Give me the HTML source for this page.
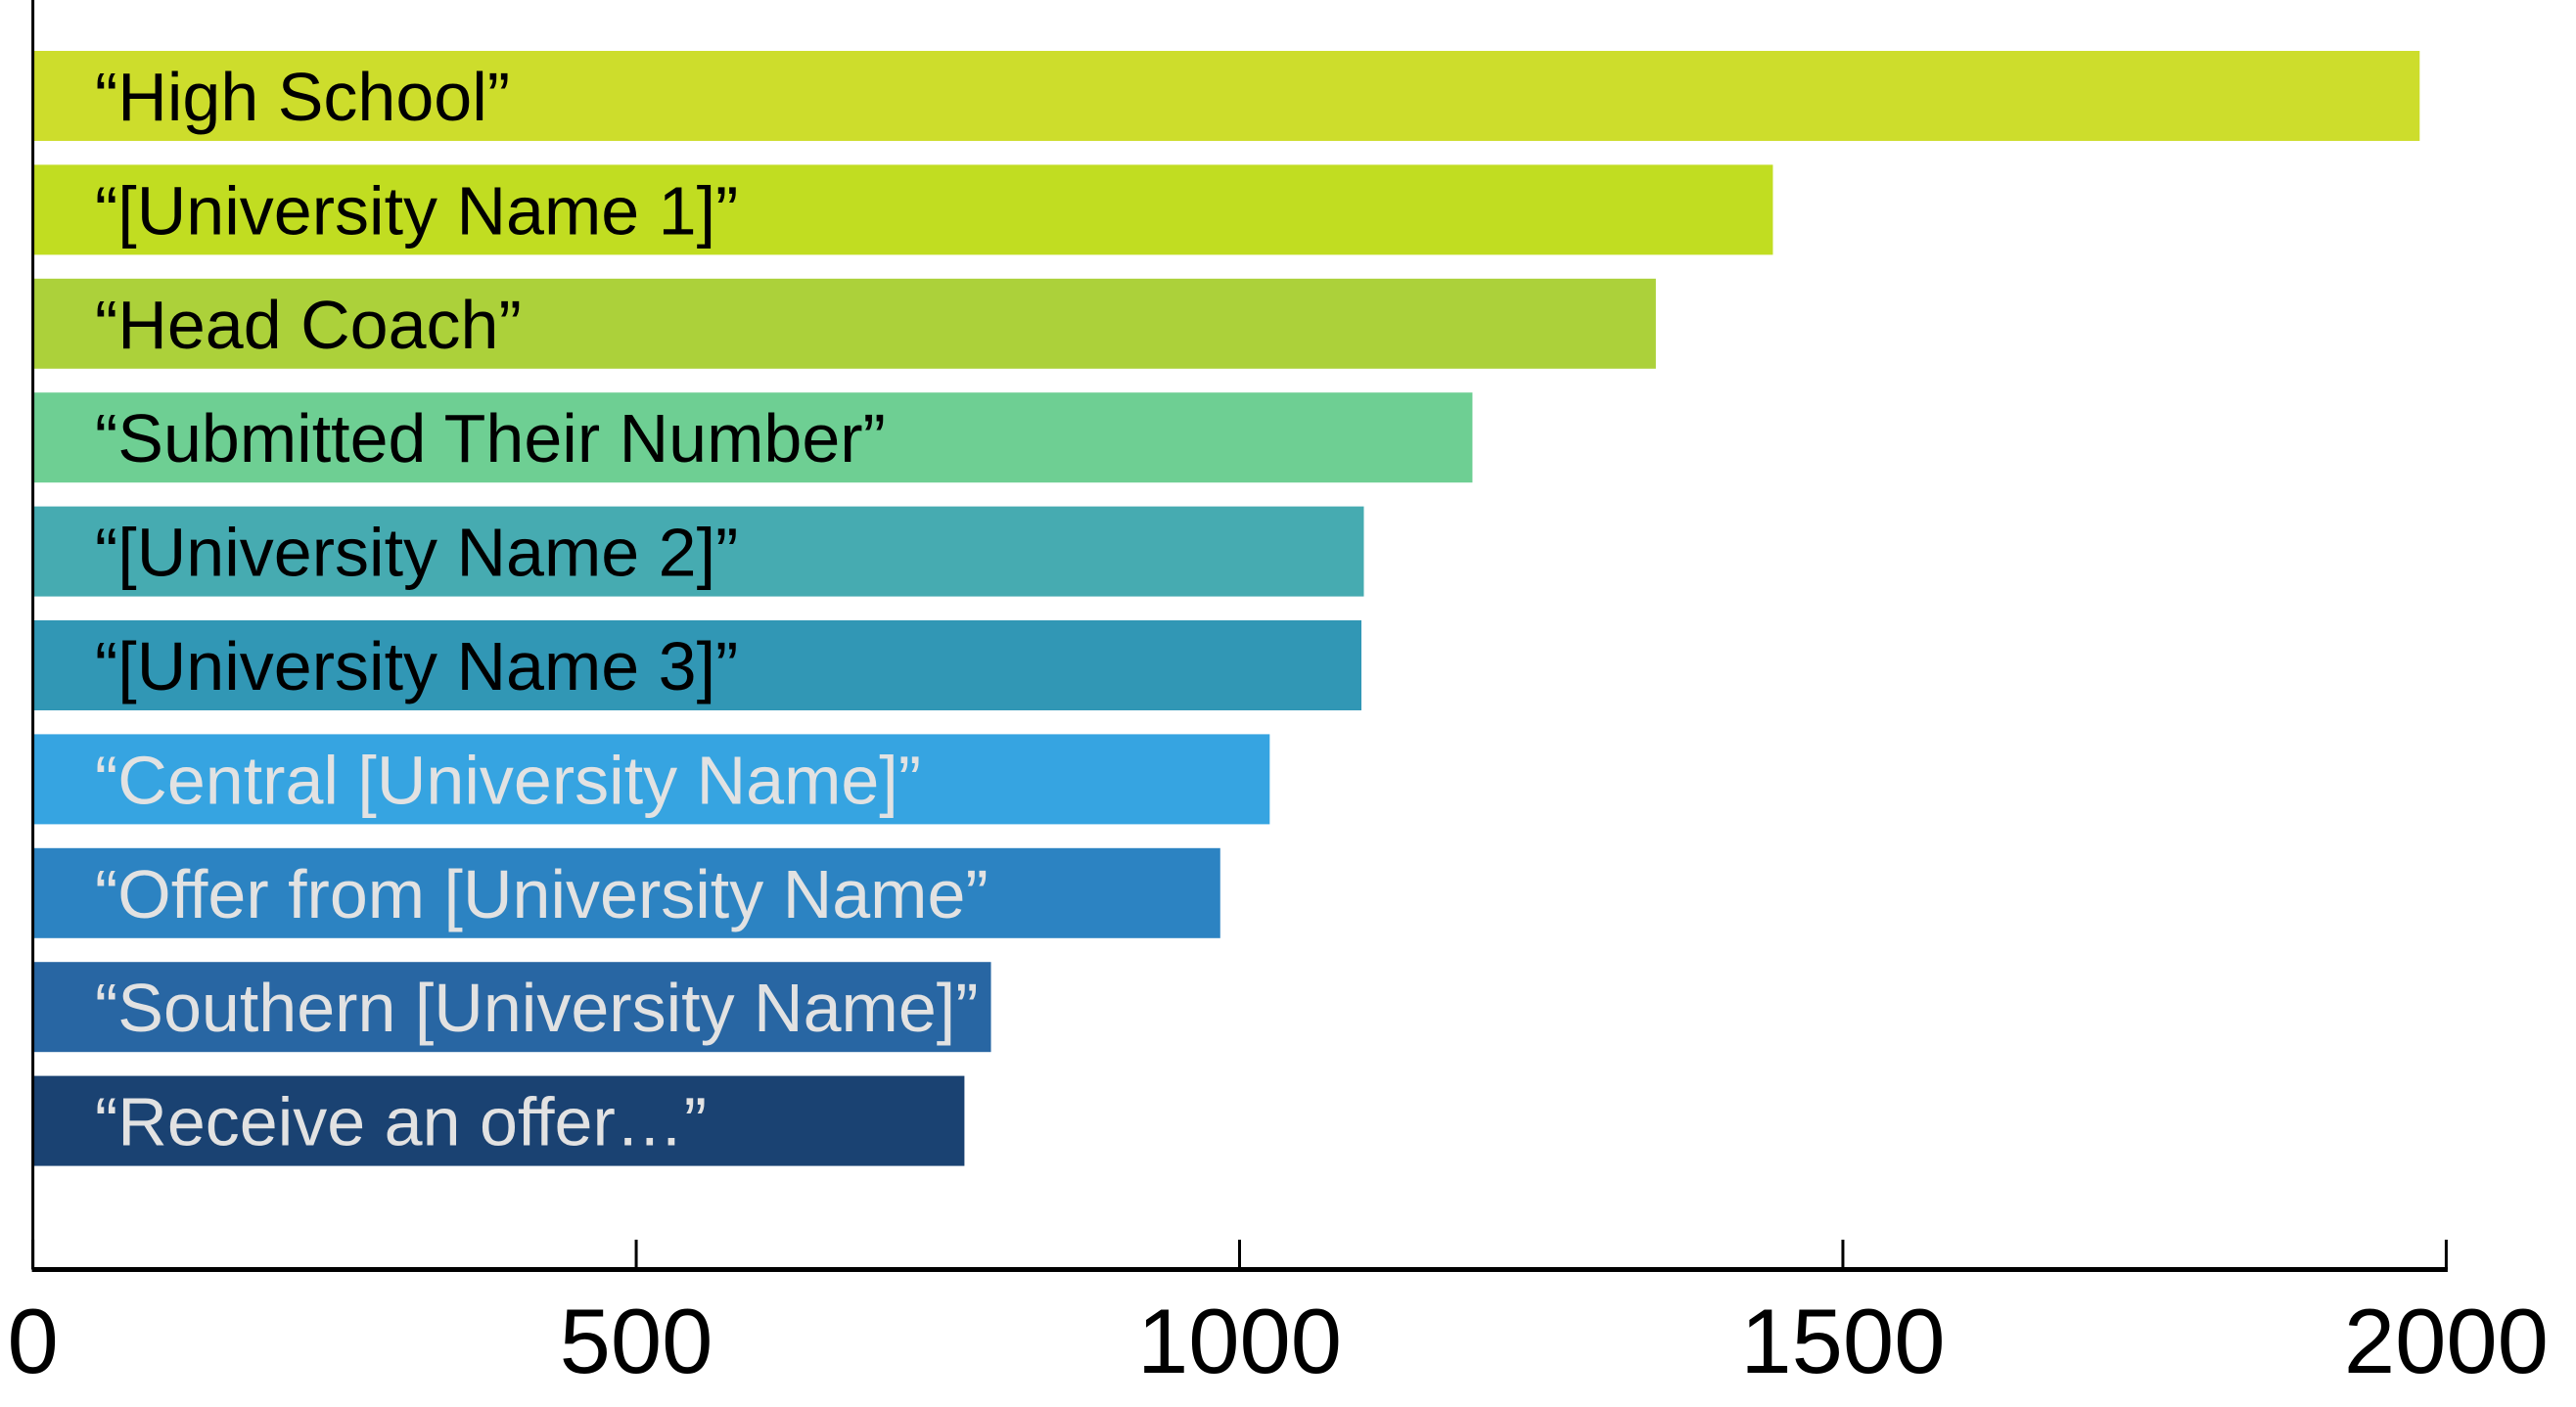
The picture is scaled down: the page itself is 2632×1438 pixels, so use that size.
<!DOCTYPE html>
<html><head><meta charset="utf-8"><style>
html,body{margin:0;padding:0;background:#fff;}
svg{display:block;}
text{font-family:"Liberation Sans",sans-serif;}
</style></head><body>
<svg id="chart" width="2632" height="1438" viewBox="0 0 2632 1438"></svg>
<script>
const categories = ["“High School”","“[University Name 1]”","“Head Coach”","“Submitted Their Number”","“[University Name 2]”","“[University Name 3]”","“Central [University Name]”","“Offer from [University Name”","“Southern [University Name]”","“Receive an offer…”"];
const values = [1978,1442,1345,1193,1103,1101,1025,984,794,772];
const colors = ["#cddd2c","#c1dd21","#acd13a","#6ecf93","#46abb1","#3197b5","#36a4e1","#2c83c2","#2866a3","#1a4272"];
const textColors = ["#000","#000","#000","#000","#000","#000","#e2e2e2","#e2e2e2","#e2e2e2","#e2e2e2"];
const ticks = [0,500,1000,1500,2000];

const NS="http://www.w3.org/2000/svg";
const svg=document.getElementById('chart');
const x0=33.6, x1=2499.4, maxV=2000;
const xs=v=>x0+(v/maxV)*(x1-x0);
const barTop=52, pitch=116.4, barH=92;
const ys=i=>barTop+i*pitch;
const axisY=1297.5;

function mk(tag,attrs){const e=document.createElementNS(NS,tag);for(const k in attrs)e.setAttribute(k,attrs[k]);svg.appendChild(e);return e;}

categories.forEach((c,i)=>{
  const r=mk('rect',{x:xs(0),y:ys(i),width:xs(values[i])-xs(0),height:barH,fill:colors[i]});
  
  
  const t=mk('text',{x:97,y:ys(i)+barH/2+25,'font-size':70,fill:textColors[i]});
  
  
  t.textContent=c;
});

const ya=mk('line',{x1:x0,y1:0,x2:x0,y2:axisY,stroke:'#000','stroke-width':3});


const xa=mk('line',{x1:x0-1,y1:axisY,x2:x1+1.5,y2:axisY,stroke:'#000','stroke-width':5});



ticks.forEach(v=>{
  const l=mk('line',{x1:xs(v),y1:1267,x2:xs(v),y2:axisY,stroke:'#000','stroke-width':3});
  
  
  const t=mk('text',{x:xs(v),y:1403,'font-size':94,'text-anchor':'middle',fill:'#000'});
  
  
  t.textContent=v;
});
</script>
</body></html>
